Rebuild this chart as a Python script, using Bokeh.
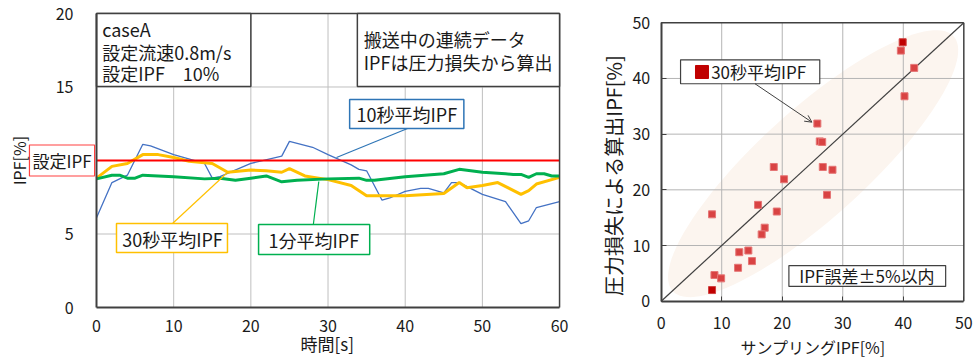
import numpy as np
from bokeh.plotting import figure
from bokeh.layouts import row
from bokeh.models import Label, Arrow, OpenHead
from bokeh.embed import file_html
from bokeh.resources import INLINE

FONT = "Noto Sans CJK JP"
TXT = "#1a1a1a"

# ---------------- left chart data (time series) ----------------
t_10s = [0, 2, 4, 6, 7, 10, 14, 15, 16, 20, 24, 25, 28, 30, 33, 34, 35, 37, 38, 40,
         42, 43, 45, 46, 47, 50, 53, 55, 56, 57, 60]
ipf_10s = [6.1, 8.5, 9.0, 11.1, 11.0, 10.4, 9.8, 8.8, 8.9, 9.8, 10.3, 11.3, 10.9, 10.4,
           9.7, 9.4, 9.3, 7.3, 7.45, 7.9, 8.1, 8.1, 7.8, 8.5, 8.5, 7.7, 7.2, 5.7, 5.9, 6.8, 7.2]

t_30s = [0, 2, 4, 6, 8, 10, 12, 15, 17, 20, 22, 24, 25, 27, 30, 33, 35, 40, 45, 47, 48,
         50, 52, 55, 56, 57, 60]
ipf_30s = [8.8, 9.6, 9.8, 10.4, 10.4, 10.2, 9.95, 9.8, 9.2, 9.35, 9.3, 9.2, 9.45, 8.95,
           8.7, 8.3, 7.6, 7.6, 7.75, 8.5, 8.15, 8.3, 8.5, 7.7, 7.95, 8.4, 8.85]

t_1min = [0, 2, 3, 4, 5, 6, 10, 14, 16, 18, 20, 22, 24, 26, 30, 34, 35, 36, 40, 45, 47,
          50, 53, 54, 55, 56, 57, 58, 59, 60]
ipf_1min = [8.75, 9.0, 9.0, 8.8, 8.8, 9.0, 8.9, 8.75, 8.8, 8.65, 8.8, 8.95, 8.55, 8.65,
            8.75, 8.8, 8.65, 8.65, 8.9, 9.1, 9.4, 9.2, 9.1, 9.05, 9.05, 8.85, 9.1, 9.1,
            8.95, 8.95]

set_ipf = 10
left_xticks = [0, 10, 20, 30, 40, 50, 60]
left_yticks = [0, 5, 10, 15, 20]

# ---------------- right chart data (scatter) ----------------
sample_ipf = [39.6, 41.8, 40.2, 25.8, 26.2, 26.6, 26.7, 28.3, 27.4, 18.6, 20.3, 16.0,
              19.1, 8.4, 17.1, 16.6, 12.9, 14.4, 15.0, 12.7, 8.8, 9.9]
calc_ipf = [45.0, 41.9, 36.8, 31.9, 28.7, 28.6, 24.1, 23.6, 19.1, 24.1, 21.9, 17.3,
            16.1, 15.6, 13.2, 12.0, 8.8, 9.1, 7.2, 6.0, 4.7, 4.1]
sample_ipf_hl = [39.9, 8.4]
calc_ipf_hl = [46.5, 2.0]
ideal = [0, 50]
right_ticks = [0, 10, 20, 30, 40, 50]


def make_fig(w, h, xr, yr, xt, yt, grid_color, tick_in, xstand, ystand):
    p = figure(width=w, height=h, x_range=xr, y_range=yr, output_backend="svg",
               toolbar_location=None, min_border=0)
    p.min_border_left = p.min_border_right = p.min_border_top = p.min_border_bottom = 0
    p.outline_line_color = None
    p.grid.visible = False
    p.background_fill_color = "white"
    p.border_fill_color = "white"
    # grid lines inside the plot box
    p.segment(x0=xt[1:-1], y0=yt[0], x1=xt[1:-1], y1=yt[-1], line_color=grid_color,
              line_width=1, level="underlay")
    p.segment(x0=xt[0], y0=yt[1:-1], x1=xt[-1], y1=yt[1:-1], line_color=grid_color,
              line_width=1, level="underlay")
    # axes fixed at the plot box
    p.xaxis.fixed_location = yt[0]
    p.yaxis.fixed_location = xt[0]
    p.xaxis.bounds = (xt[0], xt[-1])
    p.yaxis.bounds = (yt[0], yt[-1])
    p.xaxis.ticker = xt
    p.yaxis.ticker = yt
    p.axis.axis_line_color = "#404040"
    p.axis.axis_line_width = 2
    p.axis.major_tick_in = tick_in
    p.axis.major_tick_out = 0
    p.axis.minor_tick_line_color = None
    p.axis.major_tick_line_color = "#404040"
    p.axis.major_label_text_font = FONT
    p.axis.major_label_text_font_size = "16px"
    p.axis.major_label_text_color = TXT
    p.xaxis.major_label_standoff = xstand
    p.yaxis.major_label_standoff = ystand
    return p


def box_edges(p, xt, yt):
    p.segment(x0=[xt[0], xt[-1]], y0=[yt[-1], yt[0]], x1=[xt[-1], xt[-1]],
              y1=[yt[-1], yt[-1]], line_color="#404040", line_width=1.5)


def txt(p, x, y, s, size="18px", align="left", angle=0.0):
    p.add_layout(Label(x=x, y=y, text=s, text_font=FONT, text_font_size=size,
                       text_color=TXT, text_align=align, text_baseline="middle",
                       angle=angle))


# ================= LEFT =================
left = make_fig(590, 358, (-12.44, 64.01), (-3.469, 20.884), left_xticks, left_yticks,
                "#BFBFBF", 0, 12, 23)

left.line(t_10s, ipf_10s, line_color="#4472C4", line_width=1.3)
left.line(t_30s, ipf_30s, line_color="#FFC000", line_width=3)
left.line(t_1min, ipf_1min, line_color="#00B050", line_width=3)
left.line([left_xticks[0], left_xticks[-1]], [set_ipf, set_ipf], line_color="#FF0000",
          line_width=2)
box_edges(left, left_xticks, left_yticks)

# text boxes
left.quad(left=[0], right=[20], bottom=[15.03], top=[20], fill_color="white",
          line_color="#404040", line_width=1.5)
txt(left, 0.74, 18.96, "caseA")
txt(left, 0.74, 17.37, "設定流速0.8m/s")
txt(left, 0.74, 15.94, "設定IPF　10%")

left.quad(left=[33.8], right=[60], bottom=[15.03], top=[20], fill_color="white",
          line_color="#404040", line_width=1.5)
txt(left, 34.64, 18.28, "搬送中の連続データ")
txt(left, 34.64, 16.73, "IPFは圧力損失から算出")

# callouts
left.add_layout(Arrow(end=None, x_start=40.3, y_start=12.18, x_end=31.1, y_end=10.2,
                      line_color="#2E75B6", line_width=1.2))
left.quad(left=[32.8], right=[47.6], bottom=[12.18], top=[14.15], fill_color="white",
          line_color="#2E75B6", line_width=1.5)
txt(left, 33.7, 13.18, "10秒平均IPF")

left.add_layout(Arrow(end=None, x_start=9.85, y_start=5.71, x_end=16.97, y_end=9.18,
                      line_color="#FFC000", line_width=1.2))
left.quad(left=[2.59], right=[16.97], bottom=[3.74], top=[5.71], fill_color="white",
          line_color="#FFC000", line_width=1.5)
txt(left, 3.33, 4.67, "30秒平均IPF")

left.add_layout(Arrow(end=None, x_start=28.1, y_start=5.65, x_end=28.8, y_end=8.57,
                      line_color="#00B050", line_width=1.2))
left.quad(left=[21.0], right=[35.4], bottom=[3.6], top=[5.65], fill_color="white",
          line_color="#00B050", line_width=1.5)
txt(left, 22.3, 4.56, "1分平均IPF")

left.add_layout(Label(x=-4.47, y=set_ipf, text="設定IPF", text_font=FONT,
                      text_font_size="17px", text_color=TXT, text_align="center",
                      text_baseline="middle", border_line_color="#FF4040",
                      border_line_width=1.2, background_fill_color="white",
                      padding=3))

# axis titles
txt(left, -9.98, 10, "IPF[%]", size="16px", align="center", angle=np.pi / 2)
txt(left, 29.9, -2.45, "時間[s]", size="17px", align="center")

# ================= RIGHT =================
right = make_fig(383, 358, (-11.68, 51.60), (-10.29, 54.0), right_ticks, right_ticks,
                 "#B4B4B4", 5, 16, 11)

# ±error band (ellipse around the ideal line)
theta = np.linspace(0, 2 * np.pi, 120)
a_ax, b_ax, cx, cy, ang = 32.6, 9.3, 25.1, 24.7, np.pi / 4
ex = cx + a_ax * np.cos(theta) * np.cos(ang) - b_ax * np.sin(theta) * np.sin(ang)
ey = cy + a_ax * np.cos(theta) * np.sin(ang) + b_ax * np.sin(theta) * np.cos(ang)
right.patch(ex, ey, fill_color="#FCF5EF", line_color=None, level="image")

right.line(ideal, ideal, line_color="#404040", line_width=1.2)
right.scatter(sample_ipf, calc_ipf, marker="square", size=7, fill_color="#D94343",
              line_color="#E57676", line_width=1)
right.scatter(sample_ipf_hl, calc_ipf_hl, marker="square", size=7, fill_color="#C00000",
              line_color="#D04040", line_width=1)
box_edges(right, right_ticks, right_ticks)

# legend box with arrow
right.add_layout(Arrow(end=OpenHead(size=7, line_color="#404040", line_width=1),
                       x_start=15.5, y_start=39.05, x_end=24.9, y_end=32.15,
                       line_color="#404040", line_width=1))
right.quad(left=[3.2], right=[26.2], bottom=[39.05], top=[43.35], fill_color="white",
           line_color="#404040", line_width=1.2)
right.scatter([6.74], [41.16], marker="square", size=13, fill_color="#C00000",
              line_color="#C00000")
txt(right, 8.26, 41.2, "30秒平均IPF", size="17px")

right.quad(left=[21.1], right=[47.0], bottom=[2.65], top=[6.4], fill_color="white",
           line_color="#404040", line_width=1.2)
txt(right, 34.0, 4.53, "IPF誤差±5%以内", size="17px", align="center")

# axis titles
txt(right, -7.88, 22.6, "圧力損失による算出IPF[%]", size="20px", align="center",
    angle=np.pi / 2)
txt(right, 25.1, -8.14, "サンプリングIPF[%]", size="16px", align="center")

layout = row(left, right)
open("out.html", "w").write(file_html(layout, INLINE))
